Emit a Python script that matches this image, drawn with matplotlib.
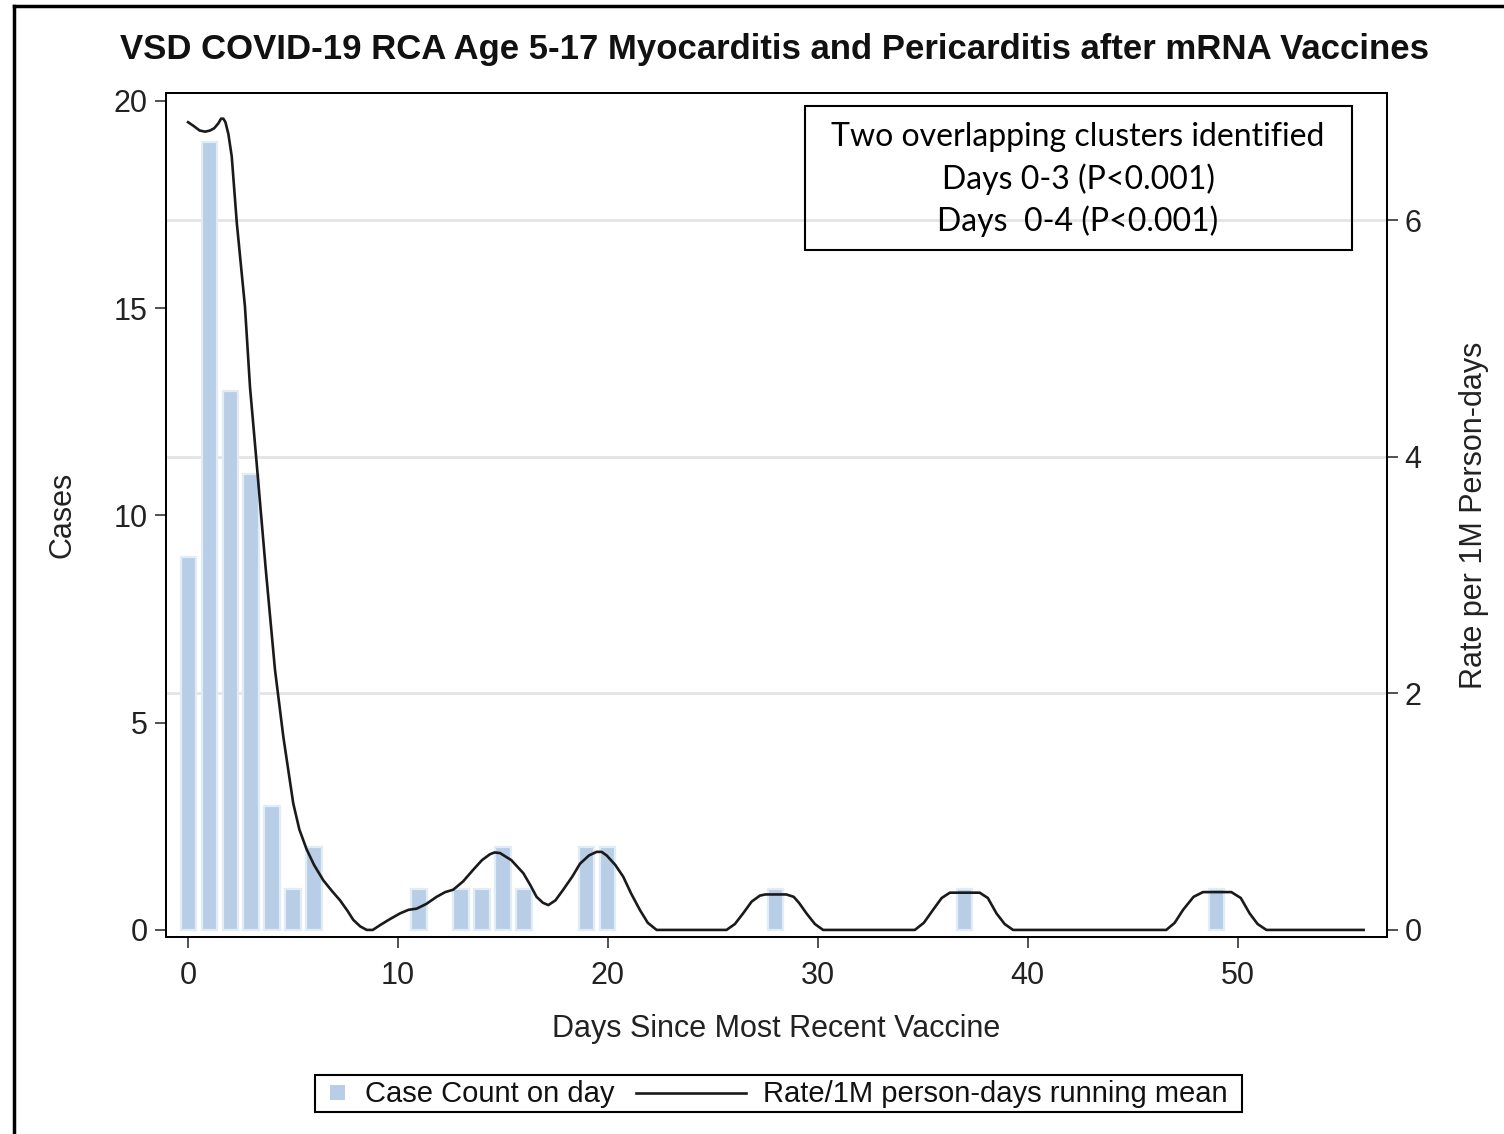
import numpy as np
import matplotlib
matplotlib.use("Agg")
import matplotlib.pyplot as plt
import matplotlib.transforms as mtransforms
from matplotlib.patches import Rectangle
from matplotlib.lines import Line2D

plt.rcParams["font.family"] = ["Liberation Sans", "DejaVu Sans"]

# ---- data ----
days = [0, 1, 2, 3, 4, 5, 6, 11, 13, 14, 15, 16, 19, 20, 28, 37, 49]
cases = [9, 19, 13, 11, 3, 1, 2, 1, 1, 1, 2, 1, 2, 2, 1, 1, 1]

rate_days = [0.0, 0.25, 0.55, 0.81, 1.05, 1.25, 1.44, 1.57, 1.68, 1.78, 1.92, 2.08, 2.32, 2.71, 2.95,
             3.27, 3.7, 4.14, 4.54, 5.01, 5.3, 5.65, 6.0, 6.44, 6.85, 7.24, 7.6, 7.87, 8.2, 8.51, 8.8,
             9.14, 9.6, 10.1, 10.5, 10.89, 11.35, 11.84, 12.25, 12.63, 13.1, 13.59, 14.0, 14.38, 14.6,
             14.86, 15.4, 15.97, 16.3, 16.6, 16.9, 17.16, 17.5, 17.87, 18.3, 18.67, 19.1, 19.46, 19.7,
             19.94, 20.35, 20.73, 21.1, 21.52, 21.9, 22.32,
             25.65, 26.05, 26.44, 26.85, 27.24, 27.5, 28.5, 28.85, 29.1, 29.46, 29.86, 30.25,
             34.62, 35.05, 35.49, 35.9, 36.29, 37.71, 38.1, 38.51, 38.9, 39.3,
             46.6, 47.0, 47.4, 47.9, 48.35, 49.7, 50.15, 50.57, 50.95, 51.37, 56.0]
rate_vals = [6.83, 6.80, 6.76, 6.75, 6.76, 6.78, 6.82, 6.86, 6.86, 6.83, 6.73, 6.54, 5.98, 5.27, 4.59,
             3.94, 3.05, 2.20, 1.63, 1.07, 0.85, 0.68, 0.55, 0.42, 0.33, 0.25, 0.16, 0.085, 0.03, 0.0, 0.0,
             0.04, 0.09, 0.14, 0.17, 0.18, 0.22, 0.28, 0.32, 0.34, 0.41, 0.51, 0.59, 0.64, 0.655,
             0.65, 0.59, 0.48, 0.38, 0.28, 0.23, 0.21, 0.25, 0.34, 0.45, 0.56, 0.63, 0.66, 0.66,
             0.63, 0.55, 0.45, 0.31, 0.17, 0.06, 0.0,
             0.0, 0.05, 0.14, 0.24, 0.29, 0.30, 0.30, 0.28, 0.23, 0.14, 0.05, 0.0,
             0.0, 0.06, 0.17, 0.27, 0.315, 0.315, 0.27, 0.14, 0.05, 0.0,
             0.0, 0.06, 0.17, 0.28, 0.32, 0.32, 0.27, 0.14, 0.05, 0.0, 0.0]

left_ticks = [0, 5, 10, 15, 20]
right_ticks = [0, 2, 4, 6]
x_ticks = [0, 10, 20, 30, 40, 50]
grid_rates = [2, 4, 6]

title = "VSD COVID-19 RCA Age 5-17 Myocarditis and Pericarditis after mRNA Vaccines"
note_lines = ["Two overlapping clusters identified", "Days 0-3 (P<0.001)", "Days  0-4 (P<0.001)"]
legend_labels = ["Case Count on day", "Rate/1M person-days running mean"]

BAR_COLOR = "#b8cee6"
LINE_COLOR = "#1a1a1a"
W, H = 1504, 1134


def fx(px):
    return px / W


def fy(py):
    return 1 - py / H


fig = plt.figure(figsize=(15.04, 11.34), dpi=100)
ax = fig.add_axes([0.1104, 0.1737, 0.8116, 0.7446])
ax2 = ax.twinx()

# gridlines follow the right axis but sit under the bars
blend = mtransforms.blended_transform_factory(ax.transAxes, ax2.transData)
for r in grid_rates:
    ax.plot([0, 1], [r, r], transform=blend, color="#e4e4e4", lw=2, zorder=0)

ax.bar(days, cases, width=0.72, color=BAR_COLOR, edgecolor="#e2ecf6", linewidth=1.6, zorder=2)
ax2.plot(rate_days, rate_vals, color=LINE_COLOR, lw=1.9, zorder=3, solid_joinstyle="round")

ax.set_xlim(-1.05, 57.1)
ax.set_ylim(-0.17, 20.2)
ax2.set_ylim(-0.06, 7.08)
ax.set_xticks(x_ticks)
ax.set_yticks(left_ticks)
ax2.set_yticks(right_ticks)

for a in (ax, ax2):
    for s in a.spines.values():
        s.set_linewidth(1.4)
        s.set_color("black")
    a.tick_params(length=8, width=1.2, color="#333333", labelsize=22, labelcolor="#222222", pad=5)
ax.tick_params(axis="x", pad=9)

ax.set_ylabel("Cases", fontsize=22, color="#222222", labelpad=26)
ax.set_xlabel("Days Since Most Recent Vaccine", fontsize=22, color="#222222", labelpad=17)
ax2.set_ylabel("Rate per 1M Person-days", fontsize=22, color="#222222", labelpad=27)

fig.text(fx(775), fy(50), title, ha="center", va="center",
         fontsize=25, fontweight="bold", color="#111111")

# cluster note box
fig.patches.append(Rectangle((fx(805), fy(250)), 547 / W, 144 / H,
                             transform=fig.transFigure, fill=False, edgecolor="black",
                             linewidth=1.5))
for i, line in enumerate(note_lines):
    fig.text(fx(1078), fy(137 + 42 * i), line, ha="center", va="center",
             fontsize=23, family=["Lato", "DejaVu Sans"], color="black")

# legend drawn by hand to match the small square swatch
fig.patches.append(Rectangle((fx(315), fy(1112)), 927 / W, 37 / H,
                             transform=fig.transFigure, fill=False, edgecolor="black",
                             linewidth=1.5))
fig.patches.append(Rectangle((fx(330), fy(1100)), 15 / W, 15 / H,
                             transform=fig.transFigure, facecolor=BAR_COLOR, edgecolor="none"))
fig.text(fx(365), fy(1094), legend_labels[0], ha="left", va="center", fontsize=21, color="#111111")
fig.add_artist(Line2D([fx(636), fx(746)], [fy(1093), fy(1093)], transform=fig.transFigure,
                      color=LINE_COLOR, lw=1.9))
fig.text(fx(763), fy(1094), legend_labels[1], ha="left", va="center", fontsize=21, color="#111111")

# outer frame (left and top edges)
fig.add_artist(Line2D([fx(14), fx(14)], [0, fy(6)], transform=fig.transFigure,
                      color="black", lw=2.5))
fig.add_artist(Line2D([fx(14), 1], [fy(6), fy(6)], transform=fig.transFigure,
                      color="black", lw=2.5))

fig.savefig("out.png", dpi=100)
